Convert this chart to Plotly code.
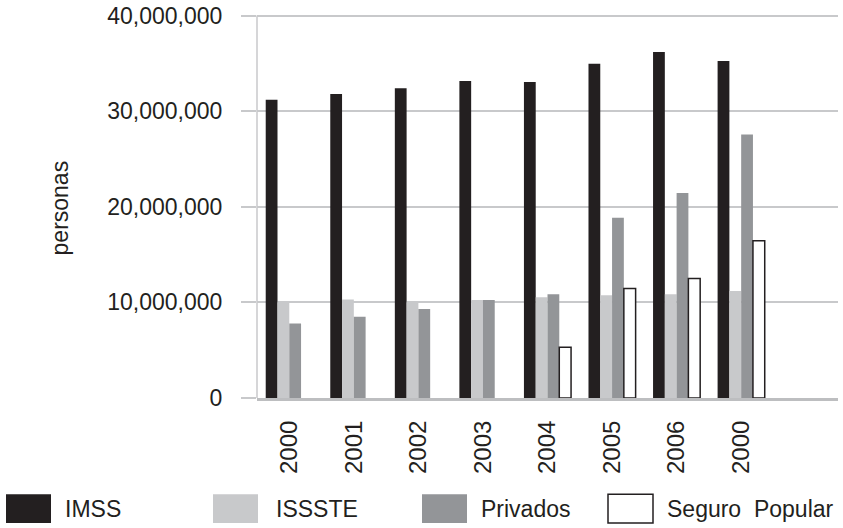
import plotly.graph_objects as go

categories = ["2000", "2001", "2002", "2003", "2004", "2005", "2006", "2000"]
series_names = ["IMSS", "ISSSTE", "Privados", "Seguro  Popular"]
imss = [31.2e6, 31.8e6, 32.4e6, 33.15e6, 33.05e6, 34.95e6, 36.2e6, 35.25e6]
issste = [10.1e6, 10.3e6, 10.1e6, 10.25e6, 10.55e6, 10.75e6, 10.85e6, 11.2e6]
privados = [7.8e6, 8.5e6, 9.3e6, 10.25e6, 10.85e6, 18.85e6, 21.45e6, 27.55e6]
seguro = [None, None, None, None, 5.3e6, 11.45e6, 12.5e6, 16.45e6]
y_tickvals = [0, 10e6, 20e6, 30e6, 40e6]
y_ticktext = ["0", "10,000,000", "20,000,000", "30,000,000", "40,000,000"]

fills = ["#231f20", "#c8c9cb", "#939598", "#ffffff"]
outlines = ["#231f20", "#c8c9cb", "#939598", "#231f20"]
outline_w = [0, 0, 0, 1.5]

FONT = "Arial, 'Liberation Sans', sans-serif"
TXT = "#231f20"
GRID = "#c8c9cb"
W, H = 843, 528
Y_TOP = 40e6
Y_MAX = 41e6
# plot box: 40M at y=12.3px, 0 at y=397.7px
px_per = (397.7 - 12.3) / Y_TOP
L, R, B = 257, 838, 398
T = round(397.7 - Y_MAX * px_per)

x_pos = list(range(len(categories)))

fig = go.Figure()
for name, vals, fc, lc, lw in zip(series_names, [imss, issste, privados, seguro], fills, outlines, outline_w):
    fig.add_trace(go.Bar(
        x=x_pos, y=vals, name=name,
        marker=dict(color=fc, line=dict(color=lc, width=lw)),
        showlegend=False,
    ))

def px_x(p):
    return (p - L) / (R - L)

def px_y(p):
    return (B - p) / (B - T)

shapes = []
annotations = []
# y axis line from 0 to top gridline
shapes.append(dict(type="line", xref="paper", yref="y", x0=0, x1=0, y0=0, y1=Y_TOP,
                   line=dict(color=GRID, width=1.5), layer="above"))
# manual legend
legend_sw_x = [6, 213, 422, 608]
legend_tx_x = [63, 274, 479, 665]
sw_w, sw_top, sw_bot = 45, 495, 524
for name, fc, lc, sx, tx in zip(series_names, fills, outlines, legend_sw_x, legend_tx_x):
    shapes.append(dict(
        type="rect", xref="paper", yref="paper",
        x0=px_x(sx), x1=px_x(sx + sw_w), y0=px_y(sw_bot), y1=px_y(sw_top),
        fillcolor=fc, line=dict(color=lc, width=1.5 if fc == "#ffffff" else 0),
    ))
    annotations.append(dict(
        xref="paper", yref="paper", x=px_x(tx), y=px_y((sw_top + sw_bot) / 2),
        xanchor="left", yanchor="middle", text=name.replace("  ", "&nbsp;&nbsp;"), showarrow=False,
        font=dict(family=FONT, size=23, color=TXT),
    ))

annotations.append(dict(
    xref="paper", yref="paper", x=px_x(60), y=px_y(207), textangle=-90,
    xanchor="center", yanchor="middle", text="personas", showarrow=False,
    font=dict(family=FONT, size=23, color=TXT),
))

fig.update_layout(
    width=W, height=H,
    margin=dict(l=L, r=W - R, t=T, b=H - B, pad=0),
    paper_bgcolor="white", plot_bgcolor="white",
    barmode="group", bargap=0.27, bargroupgap=0,
    shapes=shapes, annotations=annotations,
    showlegend=False,
    font=dict(family=FONT, color=TXT),
)
fig.update_xaxes(
    range=[-0.5, 8.5], tickmode="array", tickvals=x_pos, ticktext=categories,
    tickangle=-90, tickfont=dict(family=FONT, size=24, color=TXT),
    showgrid=False, zeroline=False, showline=True, linecolor="#bdbec0", linewidth=3,
    ticks="", ticklabelstandoff=10, ticklabeloverflow="allow",
)
fig.update_yaxes(
    range=[0, Y_MAX], tickmode="array", tickvals=y_tickvals, ticktext=y_ticktext,
    tickfont=dict(family=FONT, size=23, color=TXT),
    showgrid=True, gridcolor=GRID, gridwidth=1.5,
    zeroline=False, showline=False,
    ticks="outside", ticklen=15, tickcolor=GRID, tickwidth=1.5,
    ticklabelstandoff=14, ticklabeloverflow="allow",
)

fig.write_html("out.html")
